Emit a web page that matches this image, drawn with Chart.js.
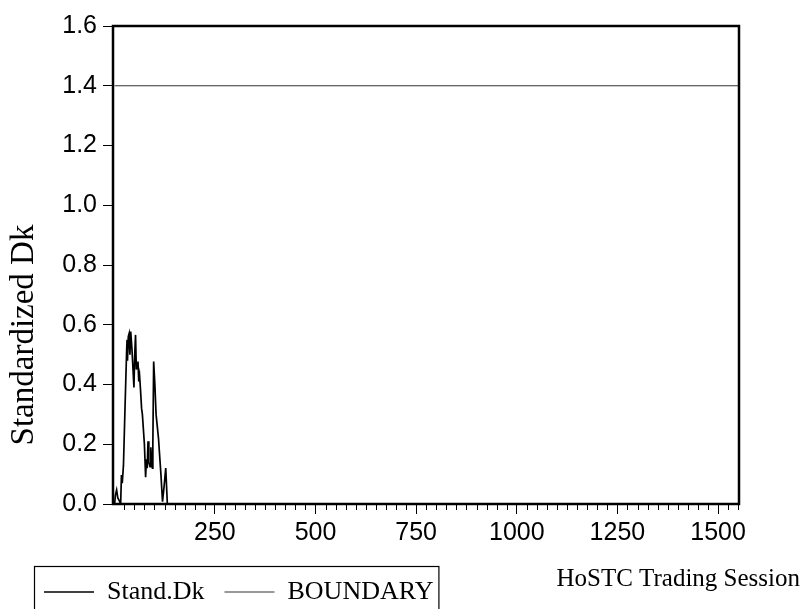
<!DOCTYPE html>
<html>
<head>
<meta charset="utf-8">
<script src="https://cdn.jsdelivr.net/npm/chart.js@4"></script>
<style>
  body { margin: 0; background: #fff; }
  canvas { display: block; }
</style>
</head>
<body>
<canvas id="cusumChart" width="802" height="609"></canvas>
<script>
// Stand.Dk against trading session
const sessions = [1, 3, 6, 9, 13, 16, 18, 20, 23, 27, 31, 32, 33, 35, 37, 39, 41, 44, 46, 49, 51, 53, 55, 57, 59, 61, 63, 65, 68, 70, 72, 75, 78, 80, 82, 84, 86, 89, 91, 93, 95, 96, 98, 101, 104, 107, 110, 113, 116, 120, 124, 128, 132, 1552];
const standDk  = [0.0, 0.03, 0.047, 0.02, 0.01, 0.0, 0.097, 0.07, 0.13, 0.33, 0.52, 0.55, 0.48, 0.56, 0.57, 0.50, 0.577, 0.52, 0.47, 0.39, 0.50, 0.566, 0.45, 0.47, 0.477, 0.41, 0.43, 0.39, 0.32, 0.30, 0.26, 0.20, 0.09, 0.15, 0.12, 0.21, 0.14, 0.125, 0.19, 0.14, 0.12, 0.20, 0.477, 0.40, 0.30, 0.26, 0.22, 0.16, 0.10, 0.008, 0.06, 0.12, 0.0, 0.0];

const boundarySessions = [1, 1552];
const boundary = [1.4, 1.4];

const xTickValues = [250, 500, 750, 1000, 1250, 1500];
const yTickValues = [0, 0.2, 0.4, 0.6, 0.8, 1.0, 1.2, 1.4, 1.6];

// cadre, petits traits x, titres des axes, boîte de légende
const framePlugin = {
  id: 'frame',
  afterDraw(chart) {
    const ctx = chart.ctx;
    const area = chart.chartArea;
    const xs = chart.scales.x;
    ctx.save();
    ctx.strokeStyle = '#000';
    ctx.lineWidth = 1;
    for (let v = 25; v < xs.max; v += 25) {
      if (v % 250 === 0) continue;
      const px = Math.round(xs.getPixelForValue(v)) + 0.5;
      ctx.beginPath();
      ctx.moveTo(px, area.bottom);
      ctx.lineTo(px, area.bottom + 6);
      ctx.stroke();
    }
    ctx.lineWidth = 2.5;
    ctx.strokeRect(area.left, area.top, area.right - area.left, area.bottom - area.top);

    const boxes = chart.legend.legendHitBoxes;
    if (boxes && boxes.length) {
      const first = boxes[0];
      const last = boxes[boxes.length - 1];
      const left = first.left - 9.5;
      const right = last.left + last.width + 5.5;
      ctx.lineWidth = 1.2;
      ctx.strokeRect(left, chart.legend.top + 7.5, right - left, 80);
    }

    ctx.fillStyle = '#000';
    ctx.textBaseline = 'middle';
    ctx.font = '25px "Liberation Serif"';
    ctx.textAlign = 'right';
    ctx.fillText('HoSTC Trading Session', 800, 579);

    ctx.translate(24, 335);
    ctx.rotate(-Math.PI / 2);
    ctx.textAlign = 'center';
    ctx.font = '33px "Liberation Serif"';
    ctx.fillText('Standardized Dk', 0, 0);
    ctx.restore();
  }
};

new Chart(document.getElementById('cusumChart'), {
  type: 'line',
  data: {
    datasets: [
      {
        label: 'Stand.Dk',
        data: sessions.map((s, i) => ({ x: s, y: standDk[i] })),
        borderColor: '#000',
        borderWidth: 1.7,
        pointRadius: 0,
        tension: 0
      },
      {
        label: 'BOUNDARY',
        data: boundarySessions.map((s, i) => ({ x: s, y: boundary[i] })),
        borderColor: '#333',
        borderWidth: 1.2,
        pointRadius: 0,
        tension: 0
      }
    ]
  },
  options: {
    responsive: false,
    animation: false,
    layout: { padding: { left: 24, right: 63, top: 26, bottom: -6 } },
    plugins: {
      tooltip: { enabled: false },
      legend: {
        position: 'bottom',
        align: 'start',
        labels: {
          usePointStyle: true,
          pointStyle: 'line',
          pointStyleWidth: 50,
          color: '#000',
          padding: 20,
          font: { family: 'Liberation Serif', size: 26 }
        }
      }
    },
    scales: {
      x: {
        type: 'linear',
        min: -3,
        max: 1552,
        afterFit: s => { s.height = 55; },
        afterBuildTicks: s => { s.ticks = xTickValues.map(v => ({ value: v })); },
        grid: { drawOnChartArea: false, tickLength: 10, color: '#000', tickColor: '#000' },
        border: { display: false },
        ticks: {
          color: '#000',
          padding: 4,
          maxRotation: 0,
          font: { family: 'Liberation Sans', size: 25 },
          callback: v => String(v)
        }
      },
      y: {
        min: 0,
        max: 1.6,
        afterFit: s => { s.width = 89; },
        afterBuildTicks: s => { s.ticks = yTickValues.map(v => ({ value: v })); },
        grid: { drawOnChartArea: false, tickLength: 10, color: '#000', tickColor: '#000' },
        border: { display: false },
        ticks: {
          color: '#000',
          padding: 6,
          font: { family: 'Liberation Sans', size: 25 },
          callback: v => v.toFixed(1)
        }
      }
    }
  },
  plugins: [framePlugin]
});
</script>
</body>
</html>
